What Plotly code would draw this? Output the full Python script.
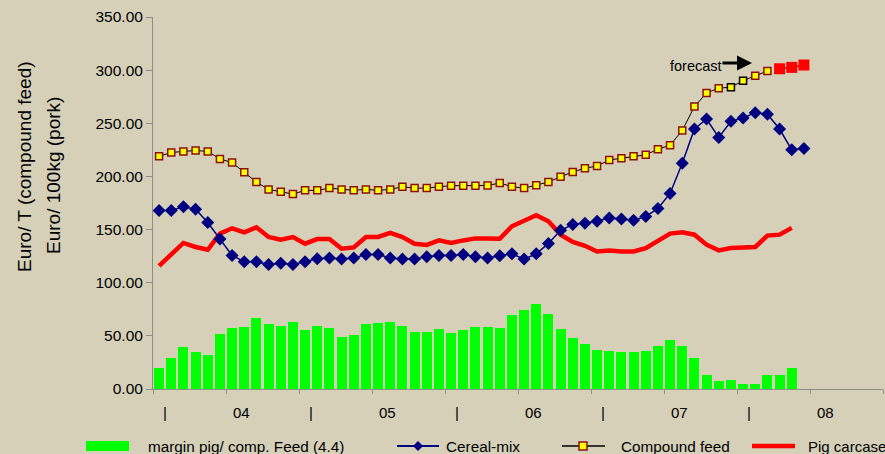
import plotly.graph_objects as go

# ---------------- data ----------------
month_names = ["Jan", "Feb", "Mar", "Apr", "May", "Jun", "Jul", "Aug", "Sep", "Oct", "Nov", "Dec"]
months = ["Dec 2003"] + [f"{m} {y}" for y in range(2004, 2009) for m in month_names][:59]
year_labels = ["04", "05", "06", "07", "08"]
y_ticks = [0, 50, 100, 150, 200, 250, 300, 350]

margin_pig = [20, 29.3, 39.7, 35, 32.2, 52, 57.7, 58.7, 67.2, 61.5, 59.6, 63.4, 55.8, 59.6, 57.7,
              49.2, 51.1, 61.5, 62.5, 63.4, 59.6, 53.9, 53.9, 56.8, 53, 55.8, 58.7, 58.7, 57.7, 70,
              74.8, 80.4, 71, 56.8, 48.3, 42.6, 36.9, 36, 35, 35, 36, 40.7, 46.4, 40.7, 29.3, 13.2,
              7.6, 8.5, 4.7, 4.7, 13.2, 13.2, 19.9]
cereal_mix = [167.9, 167.9, 171.4, 169.2, 156.6, 141.1, 125.6, 119.7, 119.7, 117.1, 118.4, 117.1,
              119.7, 122.5, 123.2, 122.2, 123.2, 126.6, 126.6, 123.2, 122.2, 122.2, 124.4, 125.6,
              125.6, 126.6, 124.4, 123.2, 125.4, 127.2, 122.2, 127.2, 137, 149.3, 154.7, 155.9,
              157.8, 161, 160, 158.8, 162.3, 169.8, 184, 212.4, 244.6, 254, 236.7, 251.8, 255, 260,
              258.5, 244.6, 225, 226.3]
compound_feed = [219, 222.5, 223.5, 224.4, 223.5, 216.5, 213, 203.9, 194.7, 187.8, 185.6, 183.4,
                 186.9, 186.9, 189, 187.8, 186.9, 187.8, 186.9, 187.8, 190.3, 189, 189, 190.3, 191.3,
                 191.3, 191.3, 191.5, 193.8, 190.3, 189, 191.6, 194.7, 199.8, 204.2, 207.7, 209.8,
                 215.5, 217.1, 219, 220.3, 225.6, 229.4, 243.3, 265.7, 278.6, 283, 284, 290, 294.7,
                 299.1]
compound_forecast = [301.3, 302.6, 304.8]
pig_carcase = [115.9, 127, 137.4, 133.6, 131, 146.2, 151.2, 147.4, 152.1, 143, 140.5, 143, 136.7,
               141.1, 141.1, 132, 133.2, 143, 143, 146.8, 143, 136.7, 135.5, 139.8, 137.4, 139.8,
               141.7, 141.7, 141.4, 153.1, 157.8, 163.5, 157.8, 145.2, 138.3, 134.8, 129.4, 130.4,
               129.4, 129.4, 132.6, 138.9, 146.2, 147.4, 145.2, 135.8, 130.4, 132.6, 132.6, 133.6,
               144.3, 145.2, 151.6]

# ---------------- figure ----------------
W, H = 885, 454
ML, MR, MT, MB = 153, 2, 17, 65
PW, PH = W - ML - MR, H - MT - MB

def px(xp):
    return (xp - ML) / PW

def py(yp):
    return (H - MB - yp) / PH

idx = list(range(len(months)))
FONT = "Liberation Sans, Arial, sans-serif"
BG = "#D6D0B9"

fig = go.Figure()
fig.add_trace(go.Bar(x=idx[:len(margin_pig)], y=margin_pig, width=0.82,
                     marker=dict(color="#00FF00", line=dict(width=0)),
                     name="margin pig/ comp. Feed (4.4)", hovertext=months[:len(margin_pig)]))
fig.add_trace(go.Scatter(x=idx[:len(pig_carcase)], y=pig_carcase, mode="lines",
                         line=dict(color="#FF0000", width=4.5), name="Pig carcase"))
fig.add_trace(go.Scatter(x=idx[:len(cereal_mix)], y=cereal_mix, mode="lines+markers",
                         line=dict(color="#000080", width=1.5),
                         marker=dict(symbol="diamond", size=10, color="#000080"),
                         name="Cereal-mix"))
edge = ["#8B1010"] * len(compound_feed)
edge[47] = "#000000"
edge[48] = "#000000"
fig.add_trace(go.Scatter(x=idx[:len(compound_feed)], y=compound_feed, mode="lines+markers",
                         line=dict(color="#000000", width=1),
                         marker=dict(symbol="square", size=7, color="#FFFF00",
                                     line=dict(color=edge, width=1.5)),
                         name="Compound feed"))
n0 = len(compound_feed)
fig.add_trace(go.Scatter(x=idx[n0:n0 + len(compound_forecast)], y=compound_forecast,
                         mode="lines+markers", line=dict(color="#FF0000", width=2),
                         marker=dict(symbol="square", size=11, color="#FF0000"),
                         name="forecast", cliponaxis=False))

annotations = []

def note(x, y, text, size, xref="paper", xanchor="center", angle=0):
    annotations.append(dict(x=x, y=y, xref=xref, yref="paper", text=text, showarrow=False,
                            xanchor=xanchor, yanchor="middle", textangle=angle,
                            font=dict(size=size, color="#000000")))

# year labels under the axis
for k, yl in enumerate(year_labels):
    jan = 1 + 12 * k
    note(jan - 0.5, py(412), "|", 15, xref="x")
    note(jan + 5.8, py(412), yl, 15, xref="x")
# axis titles
note(px(24), py(167), "Euro/ T (compound feed)", 19, angle=-90)
note(px(54), py(176), "Euro/ 100kg (pork)", 19, angle=-90)
# forecast note
note(px(696), py(66), "forecast", 14.5)
annotations.append(dict(x=px(752), y=py(63), xref="paper", yref="paper", text="",
                        showarrow=True, ax=-31, ay=0, arrowhead=2, arrowsize=1,
                        arrowwidth=3, arrowcolor="#000000"))

# custom legend
shapes = []
LY = 446
shapes.append(dict(type="rect", xref="paper", yref="paper", x0=px(86), x1=px(129),
                   y0=py(451), y1=py(441), fillcolor="#00FF00", line=dict(width=0)))
note(px(146), py(LY), "margin pig/ comp. Feed (4.4)", 15.3, xanchor="left")
# cereal-mix
shapes.append(dict(type="line", xref="paper", yref="paper", x0=px(397), x1=px(439),
                   y0=py(LY), y1=py(LY), line=dict(color="#000080", width=2)))
shapes.append(dict(type="path", xref="paper", yref="paper",
                   path=f"M {px(418)} {py(LY-5)} L {px(423)} {py(LY)} L {px(418)} {py(LY+5)} L {px(413)} {py(LY)} Z",
                   fillcolor="#000080", line=dict(width=0)))
note(px(444), py(LY), "Cereal-mix", 15.3, xanchor="left")
# compound feed
shapes.append(dict(type="line", xref="paper", yref="paper", x0=px(562), x1=px(605),
                   y0=py(LY), y1=py(LY), line=dict(color="#000000", width=1.5)))
shapes.append(dict(type="rect", xref="paper", yref="paper", x0=px(579), x1=px(587),
                   y0=py(LY+4), y1=py(LY-4), fillcolor="#FFFF00",
                   line=dict(color="#8B1010", width=1.5)))
note(px(619), py(LY), "Compound feed", 15.3, xanchor="left")
# pig carcase
shapes.append(dict(type="line", xref="paper", yref="paper", x0=px(752), x1=px(795),
                   y0=py(LY), y1=py(LY), line=dict(color="#FF0000", width=4.5)))
note(px(806), py(LY), "Pig carcase", 15, xanchor="left")

fig.update_layout(
    width=W, height=H,
    margin=dict(l=ML, r=MR, t=MT, b=MB, pad=0),
    paper_bgcolor=BG, plot_bgcolor=BG,
    font=dict(family=FONT, color="#000000"),
    showlegend=False,
    bargap=0,
    annotations=annotations,
    shapes=shapes,
    xaxis=dict(range=[-0.5, 59.5], tickmode="array",
               tickvals=[-0.5 + 6 * k for k in range(11)], showticklabels=False,
               ticks="outside", ticklen=4, tickcolor="#8C8C8C", showline=True,
               linecolor="#8C8C8C", linewidth=1, showgrid=False, zeroline=False),
    yaxis=dict(range=[0, 350], tickmode="array", tickvals=y_ticks,
               ticktext=[f"{v:.2f}" for v in y_ticks], ticks="outside", ticklen=6,
               tickcolor="#8C8C8C", showline=True, linecolor="#8C8C8C", linewidth=1,
               showgrid=False, zeroline=False, tickfont=dict(size=15.5, color="#000000")),
)

fig.write_html("out.html", config={"displayModeBar": False},
               post_script="document.body.style.margin='0px';document.body.style.padding='0px';document.body.style.overflow='hidden';")
